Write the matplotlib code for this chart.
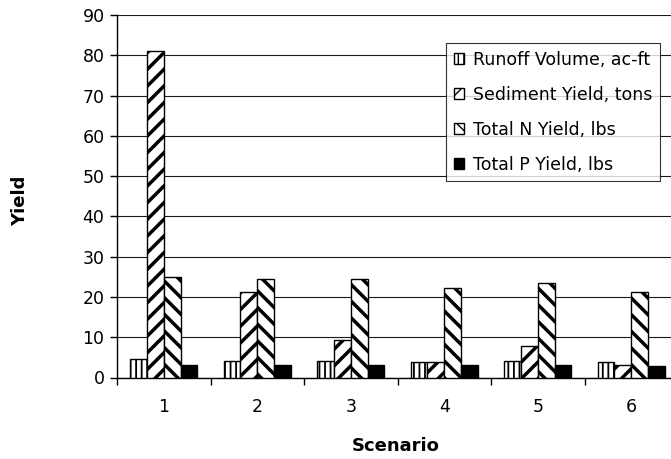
import matplotlib
matplotlib.use("Agg")
from matplotlib import pyplot as plt
from matplotlib.patches import Patch
import numpy as np

plt.rcParams['font.family'] = ['DejaVu Sans']

scenarios = ['1', '2', '3', '4', '5', '6']
runoff = [4.6, 4.2, 4.2, 3.8, 4.1, 3.8]
sediment = [81.0, 21.3, 9.2, 3.8, 7.8, 3.0]
totalN = [25.0, 24.5, 24.5, 22.2, 23.5, 21.3]
totalP = [3.2, 3.2, 3.2, 3.2, 3.2, 2.9]

# name, values, hatch, face colour, hatch line width
series = [
    ('Runoff Volume, ac-ft', runoff, '|||', 'white', 1.3),
    ('Sediment Yield, tons', sediment, '//', 'white', 2.5),
    ('Total N Yield, lbs', totalN, '\\\\', 'white', 2.5),
    ('Total P Yield, lbs', totalP, '', 'black', 1.0),
]

fig = plt.figure(figsize=(6.71, 4.59), dpi=100)
ax = fig.add_axes([117 / 671, 81.5 / 459, 561 / 671, 362.5 / 459])

x = np.arange(1, len(scenarios) + 1)
barW = 0.18
handles = []
for i, (name, vals, hatch, face, hlw) in enumerate(series):
    offset = (i - 1.5) * barW
    with plt.rc_context({'hatch.linewidth': hlw}):
        ax.bar(x + offset, vals, width=barW, color=face, edgecolor='black',
               hatch=hatch, linewidth=1.0, zorder=3)
        handles.append(Patch(facecolor=face, edgecolor='black', hatch=hatch,
                             linewidth=1.0, label=name))

ax.set_xlim(0.5, 6.5)
ax.set_ylim(0, 90)
ax.set_yticks(range(0, 91, 10))
ax.yaxis.grid(True, color='#1a1a1a', linewidth=0.8, zorder=0)
ax.set_axisbelow(True)

# ticks between the groups, labels under the groups
ax.set_xticks(np.arange(0.5, 7, 1.0))
ax.set_xticklabels([])
ax.set_xticks(x, minor=True)
ax.set_xticklabels(scenarios, minor=True)
ax.tick_params(axis='x', which='minor', length=0, pad=15, labelsize=12.5)
ax.tick_params(axis='x', which='major', length=5, width=1, direction='out')
ax.tick_params(axis='y', length=5, width=1, direction='out', labelsize=12.5, pad=4)

for s in ['top', 'right']:
    ax.spines[s].set_visible(False)
ax.spines['left'].set_linewidth(1)
ax.spines['bottom'].set_linewidth(1)

fig.text(20 / 671, 1 - 201 / 459, 'Yield', rotation=90, fontsize=13,
         fontweight='bold', ha='center', va='center')
fig.text(396 / 671, 1 - 446 / 459, 'Scenario', fontsize=13,
         fontweight='bold', ha='center', va='center')

leg = fig.legend(handles=handles, loc='upper left',
                 bbox_to_anchor=(446 / 671, 1 - 42.7 / 459),
                 frameon=True, fancybox=False, edgecolor='black',
                 fontsize=12.5, handlelength=0.6, handleheight=0.6,
                 handletextpad=0.5, labelspacing=0.98, borderpad=0.45,
                 borderaxespad=0)
leg.get_frame().set_linewidth(0.8)

fig.savefig('out.png', dpi=100)
